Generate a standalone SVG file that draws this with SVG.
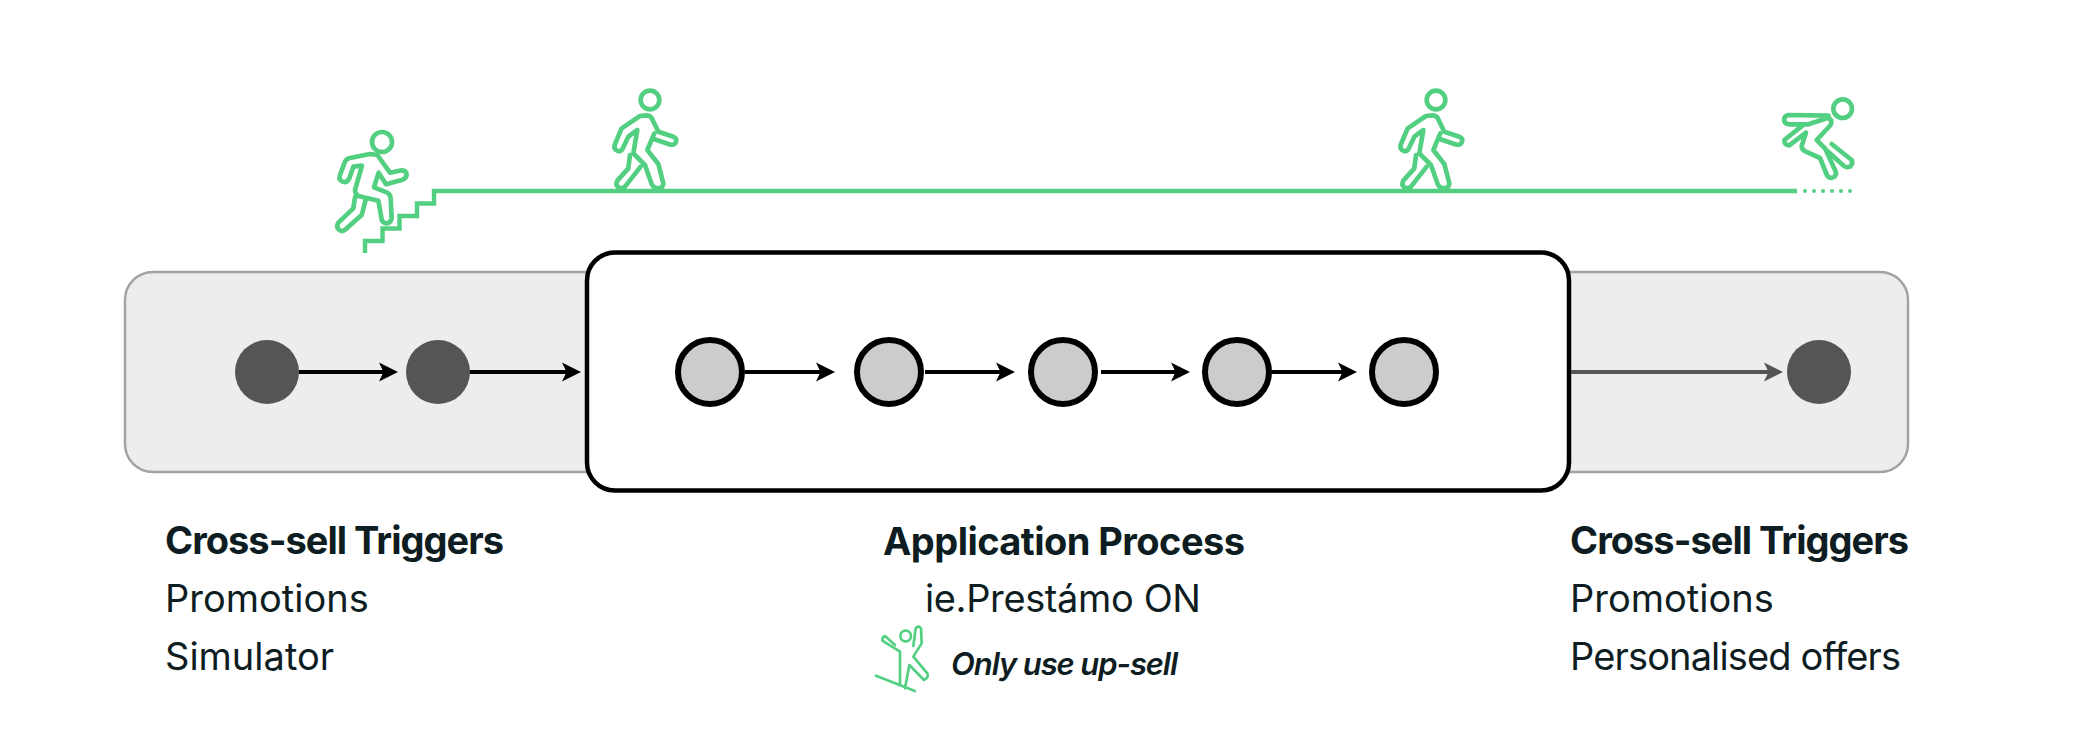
<svg xmlns="http://www.w3.org/2000/svg" width="2076" height="756" viewBox="0 0 2076 756">
<style>
.ic{fill:none;stroke:#52cf80;stroke-linejoin:round;stroke-linecap:round;stroke-width:14}
.trk{fill:none;stroke:#52cf80;stroke-width:4.400}
.arr{fill:none;stroke:#000;stroke-width:4;marker-end:url(#ah)}
.arg{fill:none;stroke:#555;stroke-width:4;marker-end:url(#ahg)}
.dk{fill:#555}
.lt{fill:#ccc;stroke:#000;stroke-width:6}
text{font-family:Inter,"Liberation Sans",sans-serif;fill:#0e1d21;font-size:38px}
.b{font-weight:700}
.i{font-style:italic;font-weight:600;font-size:31px}
.thin{stroke-width:8}
</style>
<defs>
<marker id="ah" markerUnits="userSpaceOnUse" markerWidth="24" markerHeight="24" refX="14" refY="12" orient="auto"><path d="M0 2.500L19 12L0 21.500L4.500 12Z" fill="#000"/></marker>
<marker id="ahg" markerUnits="userSpaceOnUse" markerWidth="24" markerHeight="24" refX="14" refY="12" orient="auto"><path d="M0 2.500L19 12L0 21.500L4.500 12Z" fill="#555"/></marker>
<g id="walker" class="ic">
<circle cx="1050" cy="90" r="28"/>
<path d="M1056 146L1075 185L1120 200Q1132 206 1128 216Q1124 226 1112 224L1063 208"/>
<path d="M1063 190L1042 240L1075 282L1090 340Q1090 355 1073 355Q1060 355 1055 342L1035 285L1000 250L1012 180L985 200L967 238Q958 248 948 240Q940 232 945 222L965 175L1020 138L1040 136Q1050 136 1056 146"/>
<path d="M990 255L985 295L952 332Q945 345 955 352Q965 358 975 350L1022 290"/>
</g>
</defs>
<rect id="left-right-band" x="125" y="272" width="1783" height="200" rx="28" fill="#ededed" stroke="#a3a3a3" stroke-width="2.500"/>
<rect id="application-box" x="587" y="252.500" width="982" height="238" rx="28" fill="#fff" stroke="#000" stroke-width="4.500"/>
<g id="connectors">
<line class="arr" x1="299" y1="372" x2="393" y2="372"/>
<line class="arr" x1="469" y1="372" x2="576" y2="372"/>
<line class="arr" x1="745" y1="372" x2="830" y2="372"/>
<line class="arr" x1="925" y1="372" x2="1010" y2="372"/>
<line class="arr" x1="1101" y1="372" x2="1185" y2="372"/>
<line class="arr" x1="1272" y1="372" x2="1352" y2="372"/>
<line class="arg" x1="1571" y1="372" x2="1778" y2="372"/>
</g>
<g id="n1"><circle class="dk" cx="267" cy="372" r="32"/></g>
<g id="n2"><circle class="dk" cx="438" cy="372" r="32"/></g>
<g id="n3"><circle class="lt" cx="710" cy="372" r="32"/></g>
<g id="n4"><circle class="lt" cx="889" cy="372" r="32"/></g>
<g id="n5"><circle class="lt" cx="1063" cy="372" r="32"/></g>
<g id="n6"><circle class="lt" cx="1237" cy="372" r="32"/></g>
<g id="n7"><circle class="lt" cx="1404" cy="372" r="32"/></g>
<g id="n8"><circle class="dk" cx="1819" cy="372" r="32"/></g>
<g id="journey">
<path class="trk" d="M365 253V241H382.500V228.500H399.500V216H417V203.500H434V191H1797"/>
<line x1="1805" y1="191" x2="1851" y2="191" stroke="#52cf80" stroke-width="4" stroke-linecap="round" stroke-dasharray="0 9"/>
</g>
<g id="icon-runner" transform="translate(300 70) scale(.33333)" class="ic">
<circle cx="246" cy="216" r="30"/>
<path d="M232 255L270 308L305 301Q320 302 320 315Q318 326 305 330L258 343L236 308L222 352L262 368Q272 374 272 385L275 445Q272 460 258 460Q246 458 245 448L235 392L175 378Q165 372 165 360L186 287L160 290L148 325Q140 340 128 335Q115 330 120 315L135 275Q140 265 150 264L210 252Z"/>
<path d="M165 382L160 415L115 458Q108 470 116 478Q126 488 137 478L185 435L197 390"/>
</g>
<use id="icon-walker-1" href="#walker" transform="translate(300 70) scale(.33333)"/>
<use id="icon-walker-2" href="#walker" transform="translate(1086 70) scale(.33333)"/>
<g id="icon-falling" transform="translate(1380 70) scale(.33333)" class="ic">
<circle cx="1388" cy="116" r="28"/>
<path d="M1345 137L1225 135Q1212 138 1212 150Q1214 162 1230 163L1285 163L1345 143Q1358 150 1352 165L1310 210L1335 235"/>
<path d="M1268 166L1213 210Q1212 225 1228 226L1278 188L1265 228Q1265 240 1278 245L1320 264L1342 318Q1352 328 1364 320Q1372 312 1365 300L1335 235"/>
<path d="M1355 222L1415 270Q1420 282 1410 290Q1400 294 1392 288L1342 243"/>
</g>
<g id="label-left">
<text class="b" x="165" y="554" textLength="339" lengthAdjust="spacing">Cross-sell Triggers</text>
<text x="165" y="612">Promotions</text>
<text x="165" y="670">Simulator</text>
</g>
<g id="label-center">
<text class="b" x="883" y="555" textLength="362" lengthAdjust="spacing">Application Process</text>
<text x="925" y="612" textLength="276" lengthAdjust="spacing">ie.Prestámo ON</text>
<text class="i" x="951" y="675" textLength="227" lengthAdjust="spacing">Only use up-sell</text>
<g id="icon-snowboard" transform="translate(850 510) scale(.33333)" class="ic">
<circle class="thin" cx="167" cy="378" r="16"/>
<path class="thin" d="M135 405L105 378Q96 382 97 392L150 425L150 525M190 408L197 355Q205 345 213 355L215 400L190 440L232 490Q238 502 222 510L178 465L165 535M78 497L195 543"/>
</g>
</g>
<g id="label-right">
<text class="b" x="1570" y="554" textLength="339" lengthAdjust="spacing">Cross-sell Triggers</text>
<text x="1570" y="612">Promotions</text>
<text x="1570" y="670" textLength="331" lengthAdjust="spacing">Personalised offers</text>
</g>
</svg>
